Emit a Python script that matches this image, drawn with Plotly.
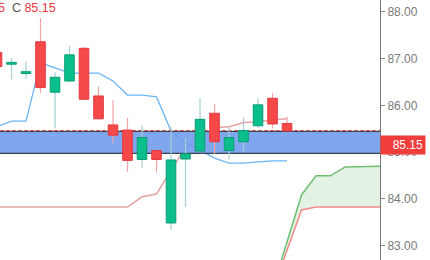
import plotly.graph_objects as go

# ---------------- data ----------------
idx = list(range(21))
opens  = [87.13, 86.88, 86.68, 87.36, 86.28, 86.52, 87.22, 86.20, 85.58, 85.47, 84.84,
          85.03, 83.48, 84.85, 85.02, 85.83, 85.03, 85.22, 85.56, 86.15, 85.61]
highs  = [87.18, 87.01, 86.93, 87.87, 86.71, 87.27, 87.25, 86.40, 86.11, 85.73, 85.58,
          85.05, 85.54, 85.30, 86.15, 86.03, 85.54, 85.74, 86.15, 86.26, 85.76]
lows   = [86.76, 86.56, 86.56, 86.26, 85.51, 86.50, 86.12, 85.70, 85.19, 84.58, 84.66,
          84.56, 83.33, 83.82, 85.01, 84.96, 84.84, 85.01, 85.52, 85.51, 85.45]
closes = [86.83, 86.92, 86.72, 86.38, 86.60, 87.08, 86.13, 85.71, 85.36, 84.82, 85.31,
          84.84, 84.83, 84.96, 85.70, 85.22, 85.31, 85.46, 86.01, 85.60, 85.45]

blue_line = [85.54, 85.66, 85.66, 86.91, 86.80, 86.69, 86.69, 86.69, 86.52, 86.22, 86.22,
             86.18, 85.45, 85.19, 85.04, 84.87, 84.76, 84.76, 84.79, 84.81, 84.81]
pink_line = [83.82, 83.82, 83.82, 83.82, 83.82, 83.82, 83.82, 83.82, 83.82, 83.82, 84.04,
             84.10, 84.60, 85.10, 85.26, 85.52, 85.54, 85.63, 85.64, 85.69, 85.71]

span_x = list(range(19, 28))
span_a = [82.07, 83.05, 84.08, 84.49, 84.49, 84.68, 84.69, 84.70, 84.70]
span_b = [82.04, 82.91, 83.76, 83.82, 83.82, 83.82, 83.82, 83.82, 83.82]

band_top, band_bottom = 85.44, 84.97
last_price = 85.46
label_price = 85.15
y_ticks = [83, 84, 85, 86, 87, 88]

# ---------------- styles ----------------
RED_FILL, RED_EDGE, RED_WICK = "#f54848", "#e23a40", "#f4a3a8"
GRN_FILL, GRN_EDGE, GRN_WICK = "#0bbf8c", "#0a9d75", "#a6cfd2"
HALF_W = 0.33
X0, X1 = -1, 28

fig = go.Figure()

# cloud (senkou spans)
fig.add_trace(go.Scatter(x=span_x, y=span_b, mode="lines",
                         line=dict(color="#f28a8a", width=1.5), hoverinfo="skip"))
fig.add_trace(go.Scatter(x=span_x, y=span_a, mode="lines",
                         line=dict(color="#6fbf73", width=1.5), fill="tonexty",
                         fillcolor="rgba(120,190,120,0.2)", hoverinfo="skip"))

# indicator lines
fig.add_trace(go.Scatter(x=idx, y=pink_line, mode="lines",
                         line=dict(color="#e6a3a3", width=1.5), hoverinfo="skip"))
fig.add_trace(go.Scatter(x=idx, y=blue_line, mode="lines",
                         line=dict(color="#6cb6f6", width=1.3), hoverinfo="skip"))

# blue band
fig.add_trace(go.Scatter(x=[X0, X1, X1, X0, X0],
                         y=[band_top, band_top, band_bottom, band_bottom, band_top],
                         mode="lines", line=dict(width=0), fill="toself",
                         fillcolor="rgba(110,155,236,0.88)", hoverinfo="skip"))
fig.add_trace(go.Scatter(x=[X0, X1, None, X0, X1],
                         y=[band_top, band_top, None, band_bottom, band_bottom],
                         mode="lines", line=dict(color="#3b4250", width=1.3), hoverinfo="skip"))
fig.add_trace(go.Scatter(x=[X0, X1], y=[last_price, last_price], mode="lines",
                         line=dict(color="#e53935", width=1.2, dash="dot"), hoverinfo="skip"))

# candles
def wick_xy(sel):
    xs, ys = [], []
    for i in sel:
        xs += [idx[i], idx[i], None]
        ys += [lows[i], highs[i], None]
    return xs, ys

def body_xy(sel):
    xs, ys = [], []
    for i in sel:
        o, c = opens[i], closes[i]
        xs += [idx[i] - HALF_W, idx[i] + HALF_W, idx[i] + HALF_W, idx[i] - HALF_W, idx[i] - HALF_W, None]
        ys += [o, o, c, c, o, None]
    return xs, ys

up = [i for i in idx if closes[i] >= opens[i]]
dn = [i for i in idx if closes[i] < opens[i]]

for sel, wc in ((up, GRN_WICK), (dn, RED_WICK)):
    wx, wy = wick_xy(sel)
    fig.add_trace(go.Scatter(x=wx, y=wy, mode="lines", line=dict(color=wc, width=1.2),
                             hoverinfo="skip"))
for sel, fc, ec in ((up, GRN_FILL, GRN_EDGE), (dn, RED_FILL, RED_EDGE)):
    bx, by = body_xy(sel)
    fig.add_trace(go.Scatter(x=bx, y=by, mode="lines", fill="toself", fillcolor=fc,
                             line=dict(color=ec, width=1), hoverinfo="skip"))

# annotations
fig.add_annotation(xref="paper", yref="y", x=1, y=label_price, xanchor="left",
                   text="85.15", showarrow=False, bgcolor="#f23d3d", borderpad=2,
                   width=40, align="right",
                   font=dict(color="white", size=12, family="Liberation Sans, Arial"))
fig.add_annotation(xref="paper", yref="paper", x=0, y=1, xanchor="left", yanchor="top",
                   xshift=-4, yshift=1, showarrow=False,
                   text='<span style="color:#e5393f">5</span>  <span style="color:#555">C</span> '
                        '<span style="color:#e5393f">85.15</span>',
                   font=dict(size=12.5, family="Liberation Sans, Arial"))

fig.update_layout(
    width=430, height=260, margin=dict(l=0, r=50, t=0, b=0),
    paper_bgcolor="white", plot_bgcolor="white", showlegend=False,
    xaxis=dict(range=[0.207, 26.41], visible=False, showgrid=False, zeroline=False),
    yaxis=dict(range=[82.687, 88.255], side="right", tickvals=y_ticks,
               ticktext=[f"{v:.2f}" for v in y_ticks], ticks="outside", ticklen=4,
               tickcolor="#888", showline=True, linecolor="#777", linewidth=1,
               showgrid=False, zeroline=False,
               tickfont=dict(color="#7a7a7a", size=12, family="Liberation Sans, Arial")),
)

fig.write_html("out.html")
